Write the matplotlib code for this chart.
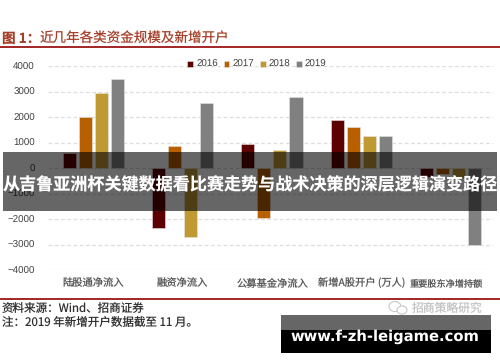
import numpy as np
import matplotlib
matplotlib.use("Agg")
import matplotlib.pyplot as plt
from matplotlib.patches import Rectangle, Ellipse

plt.rcParams['font.family'] = ['Noto Sans CJK SC', 'DejaVu Sans']
plt.rcParams['axes.unicode_minus'] = False
plt.rcParams['text.hinting'] = 'no_hinting'

W, H = 500, 362

categories = ["陆股通净流入", "融资净流入", "公募基金净流入", "新增A股开户 (万人)", "重要股东净增持额"]
years = ["2016", "2017", "2018", "2019"]
values_2016 = [600, -2350, 930, 1900, -350]
values_2017 = [2000, 850, -1950, 1600, -230]
values_2018 = [2950, -2700, 720, 1250, -400]
values_2019 = [3500, 2550, 2800, 1250, -3000]
yticks = [4000, 3000, 2000, 1000, 0, -1000, -2000, -3000, -4000]
colors = ["#5c0000", "#b85f00", "#bf9a33", "#808080"]


def fig_rect(fig, x0, y0, x1, y1, **kw):
    # pixel box measured from the top left corner
    fig.add_artist(Rectangle((x0 / W, 1 - y1 / H), (x1 - x0) / W, (y1 - y0) / H,
                             transform=fig.transFigure, **kw))


fig = plt.figure(figsize=(W / 100, H / 100), dpi=100)

# axes: 4000 is at y=66 px and -4000 at y=270.3 px
ax = fig.add_axes([48 / W, 1 - 270.3 / H, 445 / W, 204.3 / H])
series = [values_2016, values_2017, values_2018, values_2019]
x = np.arange(len(categories))
bar_w = 0.146
step = 0.18
for i, vals in enumerate(series):
    ax.bar(x + (i - 1.5) * step, vals, bar_w, color=colors[i], label=years[i],
           edgecolor="#e4e4e4", linewidth=0.4, zorder=3)

ax.set_xlim(-0.507, 4.476)
ax.set_ylim(-4000, 4000)
ax.set_yticks(yticks)
ax.set_yticklabels([str(v).replace("-", "\u2212") for v in yticks], fontsize=7,
                   color="#404040", family=["Liberation Sans"])
ax.set_xticks([])
ax.tick_params(axis="y", length=0, pad=9.4)
ax.grid(axis="y", color="#dedede", linestyle=(0, (3, 2)), linewidth=0.9, zorder=0)
for s in ax.spines.values():
    s.set_visible(False)

handles, labels = ax.get_legend_handles_labels()
leg = fig.legend(handles, labels, loc="center", bbox_to_anchor=(257 / W, 1 - 64.7 / H), ncol=4,
                 frameon=False, fontsize=7, handlelength=0.6, handleheight=0.6,
                 handletextpad=0.3, columnspacing=0.6, borderpad=0)
for t in leg.get_texts():
    t.set_color("#404040")
    t.set_family("Liberation Sans")

# category names under the axes
label_x = [93.5, 182.8, 272.5, 361.3, 446]
label_size = [7.4, 7.4, 7.4, 7.4, 6.6]
for cx, name, fs in zip(label_x, categories, label_size):
    fig.text(cx / W, 1 - 283.5 / H, name, ha="center", va="center", fontsize=fs, color="#5a5a5a")

# header
fig.text(2 / W, 1 - 38.5 / H, "图 1：", fontsize=9.8, color="#a5402a", va="center", fontweight="bold")
fig.text(40 / W, 1 - 38.5 / H, "近几年各类资金规模及新增开户", fontsize=9.75, color="#a5402a", va="center")
fig_rect(fig, 0, 46.3, 500, 47.8, color="#a52a2a", lw=0)
fig_rect(fig, 0, 298.3, 500, 299.8, color="#a52a2a", lw=0)

# footer
fig.text(2 / W, 1 - 308.3 / H, "资料来源：Wind、招商证券", fontsize=8.3, color="#303030", va="center")
fig.text(2 / W, 1 - 322.7 / H, "注：2019 年新增开户数据截至 11 月。", fontsize=8.3, color="#303030", va="center")
fig.text(412 / W, 1 - 308.5 / H, "招商策略研究", fontsize=8.5, color="#c4c4c4", va="center")
fig.add_artist(Ellipse((395 / W, 1 - 306.5 / H), 12 / W, 10 / H, transform=fig.transFigure,
                       fill=False, edgecolor="#c8c8c8", lw=0.8))
fig.add_artist(Ellipse((402 / W, 1 - 310 / H), 10 / W, 8 / H, transform=fig.transFigure,
                       facecolor="white", edgecolor="#c8c8c8", lw=0.8))

# banner across the chart
fig_rect(fig, 3, 152, 497, 211, color="black", alpha=0.6, lw=0, zorder=5)
fig.text(250 / W, 1 - 185 / H, "从吉鲁亚洲杯关键数据看比赛走势与战术决策的深层逻辑演变路径", color="white",
         fontsize=12.3, fontweight="bold", ha="center", va="center", zorder=6)

# site banner, bottom right
fig_rect(fig, 281, 315, 491, 330, color="#666666", lw=0, zorder=5)
fig_rect(fig, 281, 330, 491, 352.7, color="black", lw=0, zorder=5)
fig.text(385 / W, 1 - 336.7 / H, "www.f-zh-leigame.com", color="white", fontsize=10.6,
         fontweight="bold", ha="center", va="center", zorder=6, family=["DejaVu Sans"])

fig.savefig("out.png", dpi=100)
